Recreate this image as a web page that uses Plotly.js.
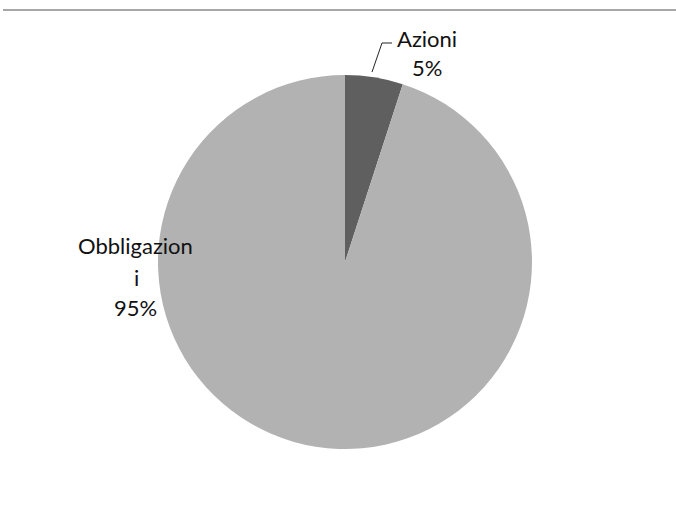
<!DOCTYPE html>
<html>
<head>
<meta charset="utf-8">
<script src="https://cdn.plot.ly/plotly-3.0.1.min.js"></script>
<style>html,body{margin:0;padding:0;background:#fff;}#chart{width:676px;height:506px;}</style>
</head>
<body>
<div id="chart"></div>
<script>
const labels = ["Azioni", "Obbligazioni"];
const values = [5, 95];
const colors = ["#5f5f5f", "#b2b2b2"];

const W = 676, H = 506;
const total = values.reduce((a, b) => a + b, 0);
const pct = values.map(v => Math.round(v / total * 100) + "%");

const px = (x) => x / W;
const py = (y) => 1 - y / H;

const cx = 345, cy = 262, r = 187;

const trace = {
  type: "pie",
  labels: labels,
  values: values,
  sort: false,
  direction: "clockwise",
  rotation: 0,
  textinfo: "none",
  hoverinfo: "label+percent",
  marker: { colors: colors, line: { width: 0 } },
  domain: {
    x: [px(cx - r), px(cx + r)],
    y: [py(cy + r), py(cy - r)]
  },
  showlegend: false
};

const font = { family: "Lato, 'Liberation Sans', sans-serif", size: 22, color: "#111" };
function ann(text, x, y) {
  return { text: text, x: px(x), y: py(y), xref: "paper", yref: "paper",
           showarrow: false, xanchor: "center", yanchor: "middle", font: font };
}

const annotations = [
  ann(labels[0], 427, 38),
  ann(pct[0], 427, 67),
  ann(labels[1].slice(0, -1), 135, 245),
  ann(labels[1].slice(-1), 136, 277),
  ann(pct[1], 135, 307)
];

const shapes = [
  { type: "line", xref: "paper", yref: "paper", x0: px(3), x1: px(676), y0: py(10), y1: py(10),
    line: { color: "#8a8a8a", width: 1.5 } },
  { type: "line", xref: "paper", yref: "paper", x0: px(372), y0: py(72), x1: px(382), y1: py(43),
    line: { color: "#222", width: 1 } },
  { type: "line", xref: "paper", yref: "paper", x0: px(382), y0: py(43), x1: px(392), y1: py(43),
    line: { color: "#222", width: 1 } }
];

const layout = {
  width: W, height: H,
  margin: { l: 0, r: 0, t: 0, b: 0 },
  paper_bgcolor: "#fff",
  plot_bgcolor: "#fff",
  annotations: annotations,
  shapes: shapes
};

Plotly.newPlot("chart", [trace], layout, { displayModeBar: false, staticPlot: true });
</script>
</body>
</html>
